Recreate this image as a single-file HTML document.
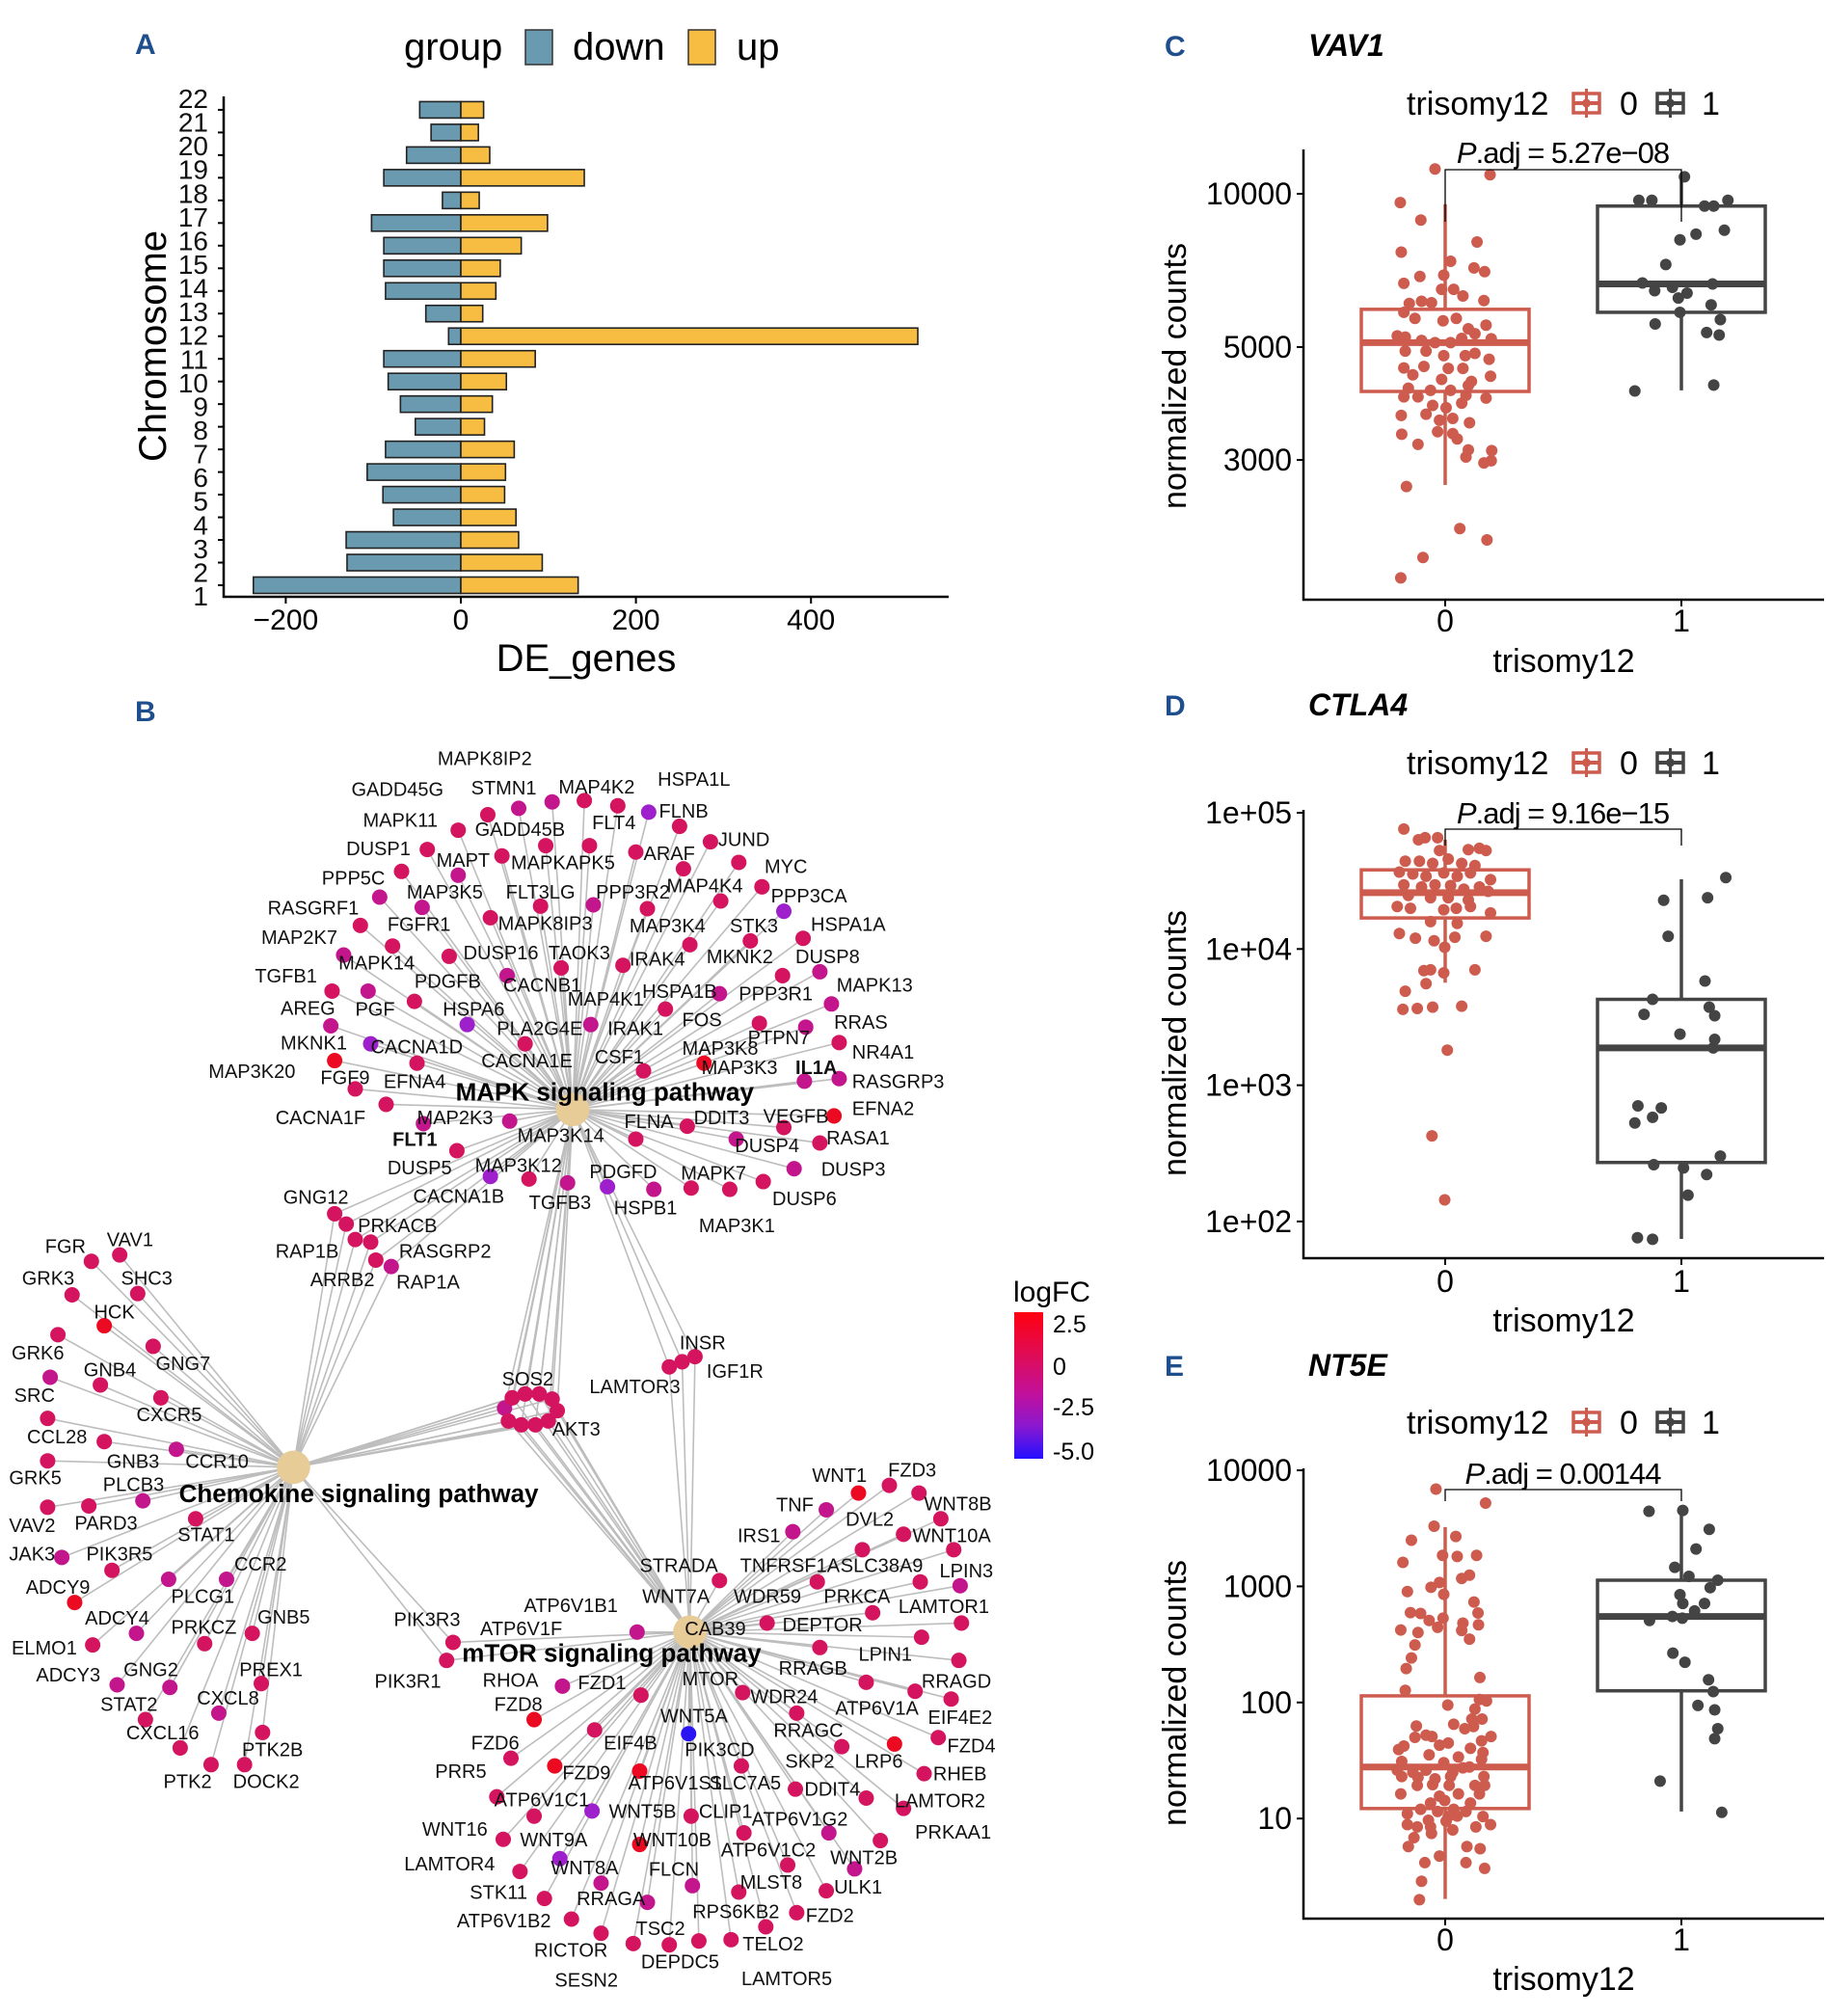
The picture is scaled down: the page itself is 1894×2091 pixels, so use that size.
<!DOCTYPE html>
<html><head><meta charset="utf-8"><style>
html,body{margin:0;padding:0;background:#fff;}
svg{display:block;font-family:"Liberation Sans",Arial,sans-serif;}
</style></head><body>
<svg id="fig" xmlns="http://www.w3.org/2000/svg" width="1894" height="2091" viewBox="0 0 1894 2091">
<rect width="1894" height="2091" fill="#fff"/>
<g id="panelA"></g>
<g id="panelB"></g>
<g id="panelC"></g>
<g id="panelD"></g>
<g id="panelE"></g>
</svg>
<script>
// ---------- Panel A data ----------
const chromosomes=["1","2","3","4","5","6","7","8","9","10","11","12","13","14","15","16","17","18","19","20","21","22"];
const downGenes=[-237,-130,-131,-77,-89,-107,-86,-52,-69,-83,-88,-14,-40,-86,-88,-88,-102,-21,-88,-62,-34,-47];
const upGenes=[134,93,66,63,50,51,61,27,36,52,85,522,25,40,45,69,99,21,141,33,20,26];
const deTicks=[-200,0,200,400];

// ---------- Boxplot data: [jitter, value] ----------
const vav1G0=[[-0.043,11190],[0.19,10900],[-0.19,9610],[-0.103,8880],[0.135,8040],[-0.186,7680],[0.023,7370],[0.122,7150],[0.167,7030],[-0.107,6880],[-0.006,6920],[-0.175,6670],[-0.015,6490],[0.036,6490],[0.075,6300],[-0.152,6090],[-0.1,6150],[-0.058,6110],[0.164,6170],[-0.175,5850],[-0.128,5690],[-0.009,5630],[0.047,5690],[0.173,5520],[0.098,5430],[-0.203,5260],[-0.169,5230],[-0.1,5150],[-0.043,5100],[0.023,5100],[0.07,5200],[0.126,5310],[0.195,5190],[-0.169,4910],[-0.081,4910],[-0.006,4810],[0.085,4810],[0.126,4860],[0.186,4730],[-0.175,4550],[-0.09,4580],[0.013,4540],[0.075,4540],[-0.137,4410],[-0.015,4320],[0.111,4280],[0.192,4380],[-0.156,4150],[-0.062,4110],[0.023,4110],[0.098,4200],[-0.175,3990],[-0.115,3990],[0.088,4020],[0.173,3970],[-0.053,3840],[0.004,3800],[0.07,3880],[-0.186,3670],[-0.081,3690],[-0.024,3590],[0.032,3620],[0.103,3550],[-0.032,3410],[0.032,3380],[-0.184,3370],[0.051,3300],[-0.115,3220],[0.098,3140],[0.197,3130],[0.088,3040],[0.164,2960],[0.195,2990],[-0.164,2660],[0.062,2200],[0.177,2090],[-0.094,1930],[-0.188,1760]];
const vav1G1=[[0.013,10800],[-0.18,9710],[-0.125,9710],[0.098,9460],[0.137,9460],[0.197,9710],[0.062,8330],[0.182,8480],[-0.006,8120],[-0.066,7260],[-0.165,6680],[-0.113,6450],[-0.038,6550],[-0.013,6240],[0.024,6380],[0.132,6650],[0.126,6050],[-0.006,5850],[0.165,5660],[-0.111,5550],[0.107,5340],[0.16,5280],[-0.197,4100],[0.137,4210]];
const vav1Box0=[2680,4090,5100,5930,9540];
const vav1Box1=[4110,5850,6650,9460,10840];
const vav1Ticks=[3000,5000,10000];
const vav1TickLabels=["3000","5000","10000"];

const ctla4G0=[[-0.175,75900],[-0.113,63400],[-0.085,65600],[-0.032,65600],[-0.024,52800],[0.098,53600],[0.145,54800],[0.173,52800],[-0.169,44100],[-0.109,44100],[-0.053,42500],[0.013,45700],[0.07,42500],[0.126,41000],[-0.194,36700],[-0.137,35500],[-0.081,34200],[-0.006,36200],[0.051,34200],[0.107,36200],[0.192,32300],[-0.175,29600],[-0.1,28500],[-0.043,29600],[0.023,29200],[0.079,27500],[0.145,28500],[0.182,26500],[-0.156,24700],[-0.062,23800],[0.013,23800],[0.098,22900],[-0.203,20500],[-0.147,19900],[-0.006,19400],[0.047,19900],[0.107,20500],[0.192,18400],[-0.062,15900],[0.051,15400],[-0.194,13000],[-0.126,12000],[-0.047,11500],[0.041,12200],[0.173,12400],[-0.002,10300],[-0.09,6930],[-0.062,7030],[-0.006,6680],[0.126,7030],[-0.081,5570],[-0.169,4900],[-0.179,3610],[-0.118,3660],[-0.053,3740],[0.07,3800],[0.009,1810],[-0.056,425],[-0.002,144]];
const ctla4G1=[[0.188,33400],[-0.075,22800],[0.111,23800],[-0.056,12400],[0.1,5820],[-0.122,4270],[0.118,3740],[-0.158,3310],[0.141,3240],[-0.006,2370],[0.141,2170],[0.135,1880],[-0.184,706],[-0.085,681],[-0.122,581],[-0.197,528],[0.165,302],[-0.117,261],[0.009,247],[0.107,221],[0.028,156],[-0.186,76],[-0.122,74]];
const ctla4Box0=[5660,16900,25900,38100,63400];
const ctla4Box1=[74.5,271,1880,4270,32500];
const ctla4Ticks=[100,1000,10000,100000];
const ctla4TickLabels=["1e+02","1e+03","1e+04","1e+05"];

const nt5eG0=[[-0.039,6880],[0.171,5220],[-0.047,3300],[-0.143,2500],[0.045,2690],[-0.179,1610],[-0.011,1850],[0.051,1810],[0.133,1850],[0.07,1170],[0.103,1250],[-0.16,902],[-0.06,982],[-0.024,1080],[-0.006,855],[0.122,733],[-0.147,594],[-0.104,584],[0.139,590],[-0.068,509],[-0.009,532],[-0.188,421],[-0.032,444],[0.075,483],[0.141,467],[-0.115,400],[0.07,417],[0.103,351],[-0.128,313],[-0.143,242],[-0.165,196],[0.147,164],[-0.169,127],[0.145,106],[0.175,103],[0.011,94.9],[0.126,87.8],[0.113,72],[0.156,72],[0.036,64.9],[-0.122,62.7],[0.083,59.4],[0.12,62],[-0.128,50],[-0.081,52.2],[-0.056,50.9],[0.194,50.9],[0.154,46.7],[-0.175,42.1],[-0.024,42.8],[0.013,44.7],[0.107,40.3],[0.16,37],[-0.197,39.3],[-0.068,35.4],[0.056,33.9],[-0.184,31],[-0.006,30.3],[0.154,32.4],[0.103,27.8],[-0.203,26.1],[-0.137,25],[-0.081,26.1],[0.032,25],[0.075,27.3],[-0.184,23],[-0.115,22.6],[-0.043,22],[0.023,23],[0.164,23],[-0.118,19.3],[-0.053,19.6],[0.017,19.3],[0.126,19.3],[0.167,19.3],[-0.188,16.3],[-0.024,15.6],[0.056,16.3],[0.145,16.3],[-0.062,13.6],[-0.002,14.3],[0.107,13.6],[-0.104,12],[-0.032,11.5],[0.036,12],[0.088,11.5],[-0.16,11],[0.013,10.4],[0.051,10.5],[0.16,10.4],[-0.071,9.67],[0.004,9.48],[-0.16,8.86],[-0.118,8.48],[-0.062,8.48],[0.13,8.48],[0.192,8.86],[0.032,7.98],[-0.058,7.45],[-0.132,6.84],[-0.156,5.74],[0.092,5.74],[0.148,5.5],[-0.024,4.75],[-0.086,4.17],[0.088,4.17],[0.167,3.72],[-0.1,2.88],[-0.109,2.0]];
const nt5eG1=[[-0.137,4440],[0.006,4510],[0.118,3100],[0.062,2100],[-0.028,1460],[0.032,1220],[0.154,1130],[0.122,975],[-0.006,849],[0.006,713],[0.098,713],[0.056,615],[-0.038,551],[0.004,532],[-0.135,509],[-0.036,266],[0.015,222],[0.115,157],[0.135,124],[0.07,94.2],[0.141,86.3],[0.154,59.4],[0.141,48.7],[-0.09,21],[0.171,11.3]];
const nt5eBox0=[2.03,12.2,27.8,114,3240];
const nt5eBox1=[11.5,126,551,1130,4510];
const nt5eTicks=[10,100,1000,10000];
const nt5eTickLabels=["10","100","1000","10000"];

// ---------- Network data (layout coords, shown scale) ----------
const hubs={M:[445,862,"MAPK signaling pathway",354,848],C:[228,1140,"Chemokine signaling pathway",139,1160],T:[536,1268,"mTOR signaling pathway",359,1284]};
const geneLabels=[["MAPK8IP2",340,589],["GADD45G",273,613],["STMN1",366,612],["MAP4K2",434,611],["HSPA1L",511,605],["MAPK11",282,637],["GADD45B",369,644],["FLT4",460,639],["FLNB",512,630],["DUSP1",269,659],["MAPT",339,668],["MAPKAPK5",397,670],["ARAF",500,663],["JUND",558,652],["MYC",594,673],["PPP5C",250,682],["MAP3K5",316,693],["FLT3LG",393,693],["PPP3R2",463,693],["MAP4K4",518,688],["PPP3CA",599,696],["RASGRF1",208,705],["FGFR1",301,718],["MAPK8IP3",387,717],["MAP3K4",489,719],["STK3",567,719],["HSPA1A",630,718],["MAP2K7",203,728],["DUSP16",360,740],["TAOK3",426,740],["IRAK4",489,745],["MKNK2",549,743],["DUSP8",618,743],["TGFB1",198,758],["MAPK14",263,748],["PDGFB",322,762],["CACNB1",391,765],["HSPA1B",499,770],["PPP3R1",574,772],["MAPK13",650,765],["MAP4K1",441,776],["AREG",218,783],["PGF",276,784],["HSPA6",344,784],["FOS",530,792],["RRAS",648,794],["PLA2G4E",386,799],["IRAK1",472,799],["PTPN7",581,806],["MKNK1",218,810],["CACNA1D",288,813],["MAP3K8",530,814],["NR4A1",662,817],["MAP3K20",162,832],["FGF9",249,837],["EFNA4",298,840],["CACNA1E",374,824],["CSF1",462,821],["MAP3K3",545,829],["IL1A",618,829],["RASGRP3",662,840],["CACNA1F",214,868],["MAP2K3",324,868],["FLT1",305,885],["MAP3K14",402,882],["FLNA",485,871],["DDIT3",539,868],["VEGFB",593,867],["EFNA2",662,861],["DUSP4",571,890],["RASA1",642,884],["DUSP5",301,907],["MAP3K12",369,905],["PDGFD",458,910],["MAPK7",529,911],["DUSP3",638,908],["GNG12",220,930],["CACNA1B",321,929],["TGFB3",411,934],["HSPB1",477,938],["DUSP6",600,931],["MAP3K1",543,952],["PRKACB",278,952],
["RAP1B",214,972],["RASGRP2",310,972],["ARRB2",241,994],["RAP1A",308,996],["FGR",35,968],["VAV1",83,963],["GRK3",17,993],["SHC3",94,993],["HCK",73,1019],["GRK6",9,1051],["GNG7",121,1059],["GNB4",65,1064],["SRC",11,1084],["CXCR5",106,1099],["CCL28",21,1116],["GNB3",83,1135],["CCR10",144,1135],["GRK5",7,1148],["PLCB3",80,1153],["PARD3",58,1183],["VAV2",7,1185],["STAT1",138,1192],["JAK3",7,1207],["PIK3R5",67,1207],["CCR2",182,1215],["PLCG1",133,1240],["ADCY9",20,1233],["ADCY4",66,1257],["GNB5",200,1256],["PRKCZ",133,1264],["ELMO1",9,1280],["ADCY3",28,1301],["GNG2",96,1297],["PREX1",186,1297],["STAT2",78,1324],["CXCL8",153,1319],["CXCL16",98,1346],["PTK2B",188,1359],["PTK2",127,1384],["DOCK2",181,1384],
["SOS2",390,1071],["AKT3",429,1110],["INSR",528,1043],["IGF1R",549,1065],["LAMTOR3",458,1077],["PIK3R3",306,1258],["PIK3R1",291,1306],
["WNT1",631,1146],["FZD3",690,1142],["WNT8B",718,1168],["TNF",603,1169],["DVL2",657,1180],["WNT10A",709,1193],["IRS1",573,1193],["LPIN3",730,1220],["STRADA",497,1216],["TNFRSF1A",575,1216],["SLC38A9",653,1216],["LAMTOR1",698,1248],["WNT7A",499,1240],["WDR59",570,1240],["PRKCA",640,1240],["ATP6V1B1",407,1247],["ATP6V1F",373,1265],["CAB39",532,1265],["DEPTOR",608,1262],["LPIN1",667,1285],["RRAGB",605,1296],["RRAGD",716,1306],["MTOR",530,1304],["RHOA",375,1305],["FZD1",449,1307],["WDR24",583,1318],["ATP6V1A",649,1327],["EIF4E2",721,1334],["FZD8",384,1324],["WNT5A",513,1333],["RRAGC",601,1344],["FZD6",366,1354],["EIF4B",469,1354],["PIK3CD",532,1359],["FZD4",736,1356],["SKP2",610,1368],["LRP6",664,1368],["PRR5",338,1376],["FZD9",437,1377],["RHEB",725,1378],["ATP6V1S1",488,1385],["SLC7A5",551,1385],["DDIT4",625,1390],["ATP6V1C1",384,1398],["LAMTOR2",695,1399],["WNT5B",473,1407],["CLIP1",543,1407],["ATP6V1G2",584,1413],["WNT16",328,1421],["WNT9A",404,1429],["WNT10B",492,1429],["PRKAA1",711,1423],["ATP6V1C2",560,1437],["WNT2B",645,1443],["LAMTOR4",314,1448],["WNT8A",428,1451],["FLCN",504,1452],["MLST8",575,1462],["ULK1",648,1466],["STK11",365,1470],["RRAGA",448,1475],["RPS6KB2",538,1485],["FZD2",626,1488],["ATP6V1B2",355,1492],["TSC2",494,1498],["RICTOR",415,1515],["TELO2",577,1510],["DEPDC5",498,1524],["SESN2",431,1538],["LAMTOR5",576,1537]];
const geneDots=[[379,633,"r","M"],[403,628,"m","M"],[429,623,"m","M"],[454,622,"r","M"],[480,626,"r","M"],[504,631,"p","M"],[528,642,"r","M"],[552,654,"r","M"],[356,645,"r","M"],[424,657,"r","M"],[458,657,"r","M"],[494,662,"r","M"],[574,670,"r","M"],[332,660,"r","M"],[390,665,"r","M"],[312,677,"r","M"],[356,680,"m","M"],[531,675,"r","M"],[592,689,"r","M"],[609,708,"p","M"],[295,697,"m","M"],[328,705,"m","M"],[420,704,"r","M"],[461,703,"m","M"],[503,706,"r","M"],[560,700,"r","M"],[583,731,"r","M"],[536,734,"r","M"],[624,729,"r","M"],[381,713,"r","M"],[280,719,"r","M"],[305,735,"r","M"],[349,743,"r","M"],[436,752,"r","M"],[484,750,"r","M"],[267,742,"m","M"],[322,778,"r","M"],[394,758,"m","M"],[559,772,"m","M"],[608,758,"r","M"],[637,755,"m","M"],[258,770,"r","M"],[286,770,"m","M"],[363,796,"p","M"],[517,784,"r","M"],[646,780,"m","M"],[590,795,"r","M"],[626,798,"m","M"],[257,797,"m","M"],[288,811,"p","M"],[459,796,"m","M"],[547,826,"R","M"],[652,810,"r","M"],[260,824,"R","M"],[276,846,"r","M"],[408,811,"r","M"],[500,832,"r","M"],[625,840,"m","M"],[652,838,"m","M"],[324,826,"r","M"],[300,858,"r","M"],[396,871,"m","M"],[329,873,"m","M"],[494,885,"r","M"],[534,875,"r","M"],[609,876,"r","M"],[648,867,"R","M"],[572,885,"m","M"],[637,888,"r","M"],[355,894,"r","M"],[381,914,"p","M"],[472,922,"p","M"],[537,923,"r","M"],[617,908,"m","M"],[411,916,"r","M"],[441,919,"m","M"],[508,924,"m","M"],[567,924,"r","M"],[593,918,"r","M"],
[260,943,"r","MC"],[269,951,"r","MC"],[276,963,"r","MC"],[288,965,"r","MC"],[292,979,"r","MC"],[304,984,"m","MC"],
[71,980,"r","C"],[93,975,"r","C"],[56,1006,"r","C"],[107,1005,"r","C"],[81,1030,"R","C"],[45,1037,"r","C"],[119,1046,"r","C"],[78,1076,"r","C"],[39,1070,"m","C"],[125,1086,"r","C"],[37,1102,"r","C"],[81,1120,"r","C"],[137,1126,"m","C"],[37,1135,"r","C"],[111,1166,"m","C"],[69,1170,"r","C"],[37,1171,"r","C"],[152,1180,"r","C"],[48,1210,"m","C"],[87,1220,"r","C"],[176,1227,"m","C"],[131,1227,"m","C"],[58,1245,"R","C"],[106,1269,"m","C"],[196,1269,"r","C"],[159,1277,"r","C"],[72,1278,"r","C"],[91,1309,"m","C"],[132,1311,"m","C"],[203,1308,"r","C"],[113,1336,"r","C"],[170,1331,"m","C"],[140,1358,"r","C"],[204,1346,"r","C"],[164,1371,"r","C"],[190,1371,"r","C"],
[392,1094,"m","MCT"],[398,1086,"r","MCT"],[408,1083,"r","MCT"],[419,1083,"r","MCT"],[429,1087,"r","MCT"],[433,1096,"r","MCT"],[426,1104,"r","MCT"],[416,1107,"r","MCT"],[405,1107,"r","MCT"],[395,1104,"r","MCT"],
[540,1054,"r","MT"],[530,1058,"r","MT"],[520,1062,"r","MT"],[352,1276,"r","CT"],[347,1290,"r","CT"],
[667,1160,"R","T"],[691,1154,"r","T"],[714,1160,"r","T"],[642,1173,"m","T"],[670,1204,"r","T"],[731,1180,"r","T"],[702,1192,"r","T"],[616,1190,"m","T"],[741,1204,"r","T"],[559,1228,"r","T"],[635,1229,"r","T"],[715,1229,"r","T"],[746,1232,"m","T"],[678,1253,"r","T"],[495,1268,"m","T"],[596,1261,"r","T"],[747,1261,"r","T"],[716,1272,"r","T"],[637,1280,"r","T"],[745,1290,"r","T"],[673,1307,"r","T"],[711,1314,"r","T"],[739,1320,"r","T"],[437,1310,"m","T"],[498,1317,"r","T"],[577,1315,"r","T"],[619,1331,"r","T"],[415,1336,"R","T"],[535,1347,"b","T"],[654,1357,"r","T"],[397,1366,"r","T"],[462,1344,"r","T"],[729,1350,"r","T"],[695,1355,"R","T"],[576,1372,"r","T"],[386,1396,"r","T"],[431,1372,"R","T"],[497,1376,"R","T"],[718,1378,"r","T"],[618,1390,"r","T"],[673,1397,"r","T"],[460,1407,"p","T"],[702,1405,"r","T"],[415,1411,"r","T"],[537,1411,"r","T"],[644,1424,"m","T"],[391,1429,"r","T"],[578,1424,"r","T"],[497,1433,"R","T"],[684,1430,"r","T"],[612,1449,"r","T"],[664,1452,"m","T"],[404,1454,"r","T"],[435,1444,"p","T"],[467,1463,"m","T"],[538,1465,"m","T"],[574,1470,"r","T"],[642,1469,"r","T"],[423,1475,"r","T"],[503,1478,"m","T"],[595,1497,"r","T"],[619,1486,"r","T"],[444,1491,"r","T"],[520,1511,"r","T"],[467,1502,"r","T"],[568,1507,"r","T"],[492,1510,"r","T"],[543,1508,"r","T"]];
const dotColours={r:"#d4145e",m:"#c4168c",p:"#9e1fcc",R:"#ec0a22",b:"#2a14f4"};
const logfcTicks=["2.5","0","-2.5","-5.0"];

// ---------- helpers ----------
const NS="http://www.w3.org/2000/svg";
function mk(parent,tag,attrs,text){const e=document.createElementNS(NS,tag);for(const k in attrs)e.setAttribute(k,attrs[k]);if(text!==undefined)e.textContent=text;parent.appendChild(e);return e;}

// ---------- Panel A ----------
(function(){
  const g=document.getElementById('panelA');
  const x0=478,pxPer=0.908,rowBase=607,rowStep=23.48,bh=17;
  const xA=v=>x0+v*pxPer; const yA=i=>rowBase-i*rowStep;
  let t=mk(g,'text',{x:140,y:56,'font-size':30,'font-weight':'bold',fill:'#1f4e8c'},'A');
  
  t=mk(g,'text',{x:419,y:62,'font-size':40},'group');
  let r=mk(g,'rect',{x:545,y:31,width:28,height:36,fill:'#6a9ab0',stroke:'#333','stroke-width':1.5});
  t=mk(g,'text',{x:594,y:62,'font-size':40},'down');
  r=mk(g,'rect',{x:714,y:31,width:28,height:36,fill:'#f6bd42',stroke:'#333','stroke-width':1.5});
  t=mk(g,'text',{x:764,y:62,'font-size':40},'up');
  chromosomes.forEach((c,i)=>{
    const y=yA(i);
    let b=mk(g,'rect',{x:xA(downGenes[i]),y:y-bh/2,width:xA(0)-xA(downGenes[i]),height:bh,fill:'#6a9ab0',stroke:'#222','stroke-width':1.6});
    
    b=mk(g,'rect',{x:xA(0),y:y-bh/2,width:xA(upGenes[i])-xA(0),height:bh,fill:'#f6bd42',stroke:'#222','stroke-width':1.6});
    
    const tk=mk(g,'line',{x1:226,x2:232,y1:y,y2:y,stroke:'#000','stroke-width':2});
    
    const lb=mk(g,'text',{x:216,y:618-i*24.57+10,'font-size':28,'text-anchor':'end',fill:'#111'},c);
    
  });
  let a=mk(g,'line',{x1:232,x2:232,y1:100,y2:620,stroke:'#000','stroke-width':2.5});
  a=mk(g,'line',{x1:231,x2:984,y1:619,y2:619,stroke:'#000','stroke-width':2.5});
  deTicks.forEach(v=>{
    const tk=mk(g,'line',{x1:xA(v),x2:xA(v),y1:619,y2:626,stroke:'#000','stroke-width':2});
    
    const lb=mk(g,'text',{x:xA(v),y:653,'font-size':30,'text-anchor':'middle'},v<0?'\u2212'+(-v):String(v));
    
  });
  t=mk(g,'text',{x:608,y:696,'font-size':40,'text-anchor':'middle'},'DE_genes');
  t=mk(g,'text',{x:0,y:0,'font-size':40,'text-anchor':'middle',transform:'translate(172,359) rotate(-90)'},'Chromosome');
})();

// ---------- Panel B (network) ----------
(function(){
  const g0=document.getElementById('panelB');
  let t=mk(g0,'text',{x:140,y:748,'font-size':30,'font-weight':'bold',fill:'#1f4e8c'},'B');
  
  const g=mk(g0,'g',{transform:'scale(1.335)'});
  
  const eg=mk(g,'g',{stroke:'#bdbdbd','stroke-width':1.2});
  
  geneDots.forEach(d=>{
    for(const h of d[3]){
      const hb=hubs[h];
      const l=mk(eg,'line',{x1:d[0],y1:d[1],x2:hb[0],y2:hb[1]});
      
    }
  });
  for(const k in hubs){
    const hb=hubs[k];
    const c=mk(g,'circle',{cx:hb[0],cy:hb[1],r:13,fill:'#e8cc98'});
    
  }
  geneDots.forEach(d=>{
    const c=mk(g,'circle',{cx:d[0],cy:d[1],r:6,fill:dotColours[d[2]]});
    
  });
  geneLabels.forEach(l=>{
    const tx=mk(g,'text',{x:l[1],y:l[2]+5.3,'font-size':15,fill:'#111','font-weight':(l[0]==='FLT1'||l[0]==='IL1A')?'bold':'normal'},l[0]);
    
  });
  for(const k in hubs){
    const hb=hubs[k];
    const tx=mk(g,'text',{x:hb[3],y:hb[4]+7,'font-size':19.5,'font-weight':'bold',fill:'#000'},hb[2]);
    
  }
  const defs=mk(g0,'defs',{});
  const lg=mk(defs,'linearGradient',{id:'lfc',x1:0,y1:0,x2:0,y2:1});
  [["0","#ff0010"],["0.3","#de0c58"],["0.55","#c2109a"],["0.78","#8a18d0"],["1","#2210ff"]].forEach(s=>mk(lg,'stop',{offset:s[0],'stop-color':s[1]}));
  t=mk(g0,'text',{x:1051,y:1350,'font-size':30},'logFC');
  const cb=mk(g0,'rect',{x:1052,y:1361,width:30,height:152,fill:'url(#lfc)'});
  
  const ly=[1373,1417,1459,1505];
  logfcTicks.forEach((s,i)=>{
    const tx=mk(g0,'text',{x:1092,y:ly[i]+9,'font-size':25},s);
    
  });
})();

// ---------- Boxplots ----------
const RED="#cd5c4f",DARK="#444444";
function boxplot(gid,cfg){
  const g=document.getElementById(gid);
  const X0=1499,X1=1744,JIT=245,HW=87;
  const y=v=>cfg.refY+(cfg.refLog-Math.log10(v))*cfg.dec;
  let t=mk(g,'text',{x:1208,y:cfg.titleY+11,'font-size':30,'font-weight':'bold',fill:'#1f4e8c'},cfg.letter);
  
  t=mk(g,'text',{x:1357,y:cfg.titleY+11,'font-size':32,'font-weight':'bold','font-style':'italic'},cfg.title);
  
  t=mk(g,'text',{x:1459,y:cfg.legY+12,'font-size':34},'trisomy12');
  [[1632,RED,'0',1680],[1719,DARK,'1',1765]].forEach(k=>{
    const kg=mk(g,'g',{});
    mk(kg,'rect',{x:k[0],y:cfg.legY-10,width:27,height:20,fill:'none',stroke:k[1],'stroke-width':3.5});
    mk(kg,'line',{x1:k[0]+13.5,x2:k[0]+13.5,y1:cfg.legY-15,y2:cfg.legY+15,stroke:k[1],'stroke-width':3});
    mk(kg,'line',{x1:k[0],x2:k[0]+27,y1:cfg.legY,y2:cfg.legY,stroke:k[1],'stroke-width':4});
    mk(kg,'circle',{cx:k[0]+13.5,cy:cfg.legY,r:4.5,fill:k[1]});
    const lt=mk(g,'text',{x:k[3],y:cfg.legY+12,'font-size':34},k[2]);
  });
  let a=mk(g,'line',{x1:1352,x2:1352,y1:cfg.top,y2:cfg.bottom+1,stroke:'#000','stroke-width':2.5});
  a=mk(g,'line',{x1:1351,x2:1892,y1:cfg.bottom,y2:cfg.bottom,stroke:'#000','stroke-width':2.5});
  cfg.ticks.forEach((v,i)=>{
    const tk=mk(g,'line',{x1:1345,x2:1352,y1:y(v),y2:y(v),stroke:'#000','stroke-width':2});
    const lb=mk(g,'text',{x:1340,y:y(v)+11,'font-size':32,'text-anchor':'end'},cfg.tickLabels[i]);
  });
  [[X0,'0'],[X1,'1']].forEach(p=>{
    const tk=mk(g,'line',{x1:p[0],x2:p[0],y1:cfg.bottom,y2:cfg.bottom+7,stroke:'#000','stroke-width':2});
    const lb=mk(g,'text',{x:p[0],y:cfg.tickLabY+11,'font-size':32,'text-anchor':'middle'},p[1]);
  });
  t=mk(g,'text',{x:1622,y:cfg.xTitleY+12,'font-size':34,'text-anchor':'middle'},'trisomy12');
  t=mk(g,'text',{x:0,y:0,'font-size':34,'text-anchor':'middle',transform:'translate(1230,'+cfg.yTitleY+') rotate(-90)'},'normalized counts');
  [[X0,cfg.b0,RED,'0'],[X1,cfg.b1,DARK,'1']].forEach(b=>{
    const s=b[1],cx=b[0],col=b[2];
    const bg=mk(g,'g',{});
    mk(bg,'line',{x1:cx,x2:cx,y1:y(s[3]),y2:y(s[4]),stroke:col,'stroke-width':3.5});
    mk(bg,'line',{x1:cx,x2:cx,y1:y(s[1]),y2:y(s[0]),stroke:col,'stroke-width':3.5});
    mk(bg,'rect',{x:cx-HW,y:y(s[3]),width:2*HW,height:y(s[1])-y(s[3]),fill:'none',stroke:col,'stroke-width':3.5});
    mk(bg,'line',{x1:cx-HW,x2:cx+HW,y1:y(s[2]),y2:y(s[2]),stroke:col,'stroke-width':7});
  });
  [[X0,cfg.g0,RED,'0'],[X1,cfg.g1,DARK,'1']].forEach(p=>{
    p[1].forEach(pt=>{
      const c=mk(g,'circle',{cx:p[0]+pt[0]*JIT,cy:y(pt[1]),r:6,fill:p[2]});
      
    });
  });
  const br=mk(g,'path',{d:`M${X0},${cfg.legEnd}V${cfg.brY}H${X1}V${cfg.legEnd}`,fill:'none',stroke:'#000','stroke-width':1.3});
  
  t=mk(g,'text',{x:1621,y:cfg.pY+11,'font-size':31,'text-anchor':'middle','letter-spacing':'-1'});
  
  mk(t,'tspan',{'font-style':'italic'},'P');mk(t,'tspan',{},'.adj = '+cfg.p);
}
boxplot('panelC',{letter:'C',title:'VAV1',g0:vav1G0,g1:vav1G1,b0:vav1Box0,b1:vav1Box1,ticks:vav1Ticks,tickLabels:vav1TickLabels,refY:201,refLog:4,dec:528,top:155,bottom:622,titleY:47,legY:107,pY:158,brY:176,legEnd:230,tickLabY:644,xTitleY:685,yTitleY:390,p:'5.27e\u221208'});
boxplot('panelD',{letter:'D',title:'CTLA4',g0:ctla4G0,g1:ctla4G1,b0:ctla4Box0,b1:ctla4Box1,ticks:ctla4Ticks,tickLabels:ctla4TickLabels,refY:843,refLog:5,dec:141.3,top:840,bottom:1305,titleY:731,legY:791,pY:843,brY:860,legEnd:877,tickLabY:1329,xTitleY:1369,yTitleY:1082,p:'9.16e\u221215'});
boxplot('panelE',{letter:'E',title:'NT5E',g0:nt5eG0,g1:nt5eG1,b0:nt5eBox0,b1:nt5eBox1,ticks:nt5eTicks,tickLabels:nt5eTickLabels,refY:1525,refLog:4,dec:120.4,top:1523,bottom:1990,titleY:1416,legY:1475,pY:1528,brY:1545,legEnd:1557,tickLabY:2012,xTitleY:2052,yTitleY:1756,p:'0.00144'});
</script>
</body></html>
